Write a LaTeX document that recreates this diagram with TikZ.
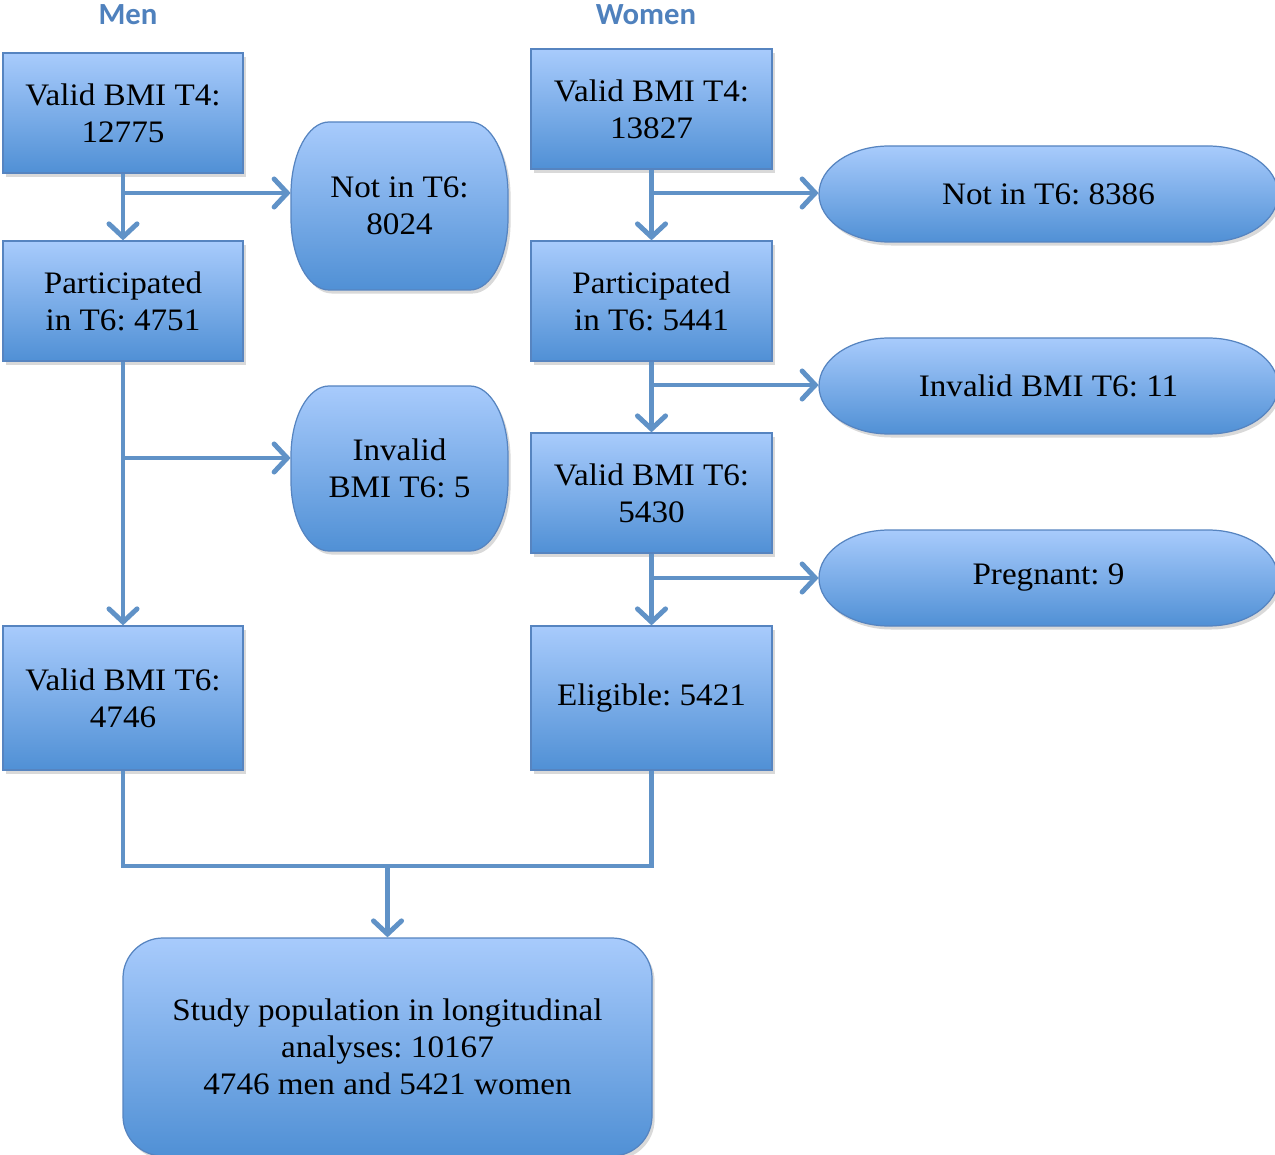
\documentclass[tikz,border=0pt]{standalone}
\usepackage{fontspec}
\setmainfont{Liberation Serif}[FakeStretch=1.06]
\newfontfamily\headfont{Carlito}
\usetikzlibrary{arrows.meta,shadows}
\definecolor{boxtop}{RGB}{168,203,252}
\definecolor{boxbot}{RGB}{80,144,213}
\definecolor{boxline}{RGB}{86,132,192}
\definecolor{flow}{RGB}{96,146,199}
\definecolor{headblue}{RGB}{79,129,189}
\def\px{0.02cm}
\newcommand\blob[6]{%
  \path[fillshade] (#1+#5,#2) -- (#3-#5,#2)
    arc[start angle=90,end angle=0,x radius=#5*\px,y radius=#6*\px]
    -- (#3,#4-#6)
    arc[start angle=0,end angle=-90,x radius=#5*\px,y radius=#6*\px]
    -- (#1+#5,#4)
    arc[start angle=-90,end angle=-180,x radius=#5*\px,y radius=#6*\px]
    -- (#1,#2+#6)
    arc[start angle=180,end angle=90,x radius=#5*\px,y radius=#6*\px]
    -- cycle;}
\frenchspacing
\begin{document}
\begin{tikzpicture}[x=\px,y=-\px,
    fillshade/.style={top color=boxtop,bottom color=boxbot,draw=boxline,line width=0.7pt,
      drop shadow={shadow xshift=1.5pt,shadow yshift=-2pt,opacity=.3}},
    txt/.style={align=center,inner sep=0pt,font=\fontsize{17.8}{21}\selectfont},
    box/.style={fillshade,txt,rectangle,minimum width=240*\px,minimum height=120*\px},
    blobtext/.style={txt,rectangle},
    head/.style={font=\headfont\bfseries\fontsize{17.5}{20}\selectfont,text=headblue},
    flowline/.style={draw=flow,line width=2.8pt},
    flow/.style={flowline,-{Straight Barb[length=7.5pt,width=16pt,line cap=round]}}]
  \useasboundingbox (0,0) rectangle (1275,1155);
  \node[head] (menhead) at (128,15) {Men};
  \node[head] (womenhead) at (646,15) {Women};

  \node[box] (m1) at (123,113) {Valid BMI T4:\\12775};
  \node[box] (m2) at (123,301) {Participated\\in T6: 4751};
  \node[box,minimum height=144*\px] (m3) at (123,698) {Valid BMI T6:\\4746};
  \blob{291}{122}{508}{290}{38}{72}
  \node[blobtext,minimum width=217*\px,minimum height=168*\px] (n1) at (399.5,206) {Not in T6:\\8024};
  \blob{291}{386}{508}{551}{38}{70}
  \node[blobtext,minimum width=217*\px,minimum height=165*\px] (n2) at (399.5,468.5) {Invalid\\BMI T6: 5};

  \node[box,minimum width=241*\px] (w1) at (651.5,109) {Valid BMI T4:\\13827};
  \node[box,minimum width=241*\px] (w2) at (651.5,301) {Participated\\in T6: 5441};
  \node[box,minimum width=241*\px] (w3) at (651.5,493) {Valid BMI T6:\\5430};
  \node[box,minimum width=241*\px,minimum height=144*\px] (w4) at (651.5,698) {Eligible: 5421};
  \blob{819}{146}{1278}{242}{70}{48}
  \node[blobtext,minimum width=459*\px,minimum height=96*\px] (r1) at (1048.5,194) {Not in T6: 8386};
  \blob{819}{338}{1278}{434}{70}{48}
  \node[blobtext,minimum width=459*\px,minimum height=96*\px] (r2) at (1048.5,386) {Invalid BMI T6: 11};
  \blob{819}{530}{1278}{626}{70}{48}
  \node[blobtext,minimum width=459*\px,minimum height=96*\px] (r3) at (1048.5,578) {Pregnant: 9};

  \node[fillshade,txt,rectangle,rounded corners=0.8cm,minimum width=529*\px,minimum height=218*\px] (fin) at (387.5,1047)
    {Study population in longitudinal\\analyses: 10167\\4746 men and 5421 women};

  \coordinate (b1) at (123,193);
  \coordinate (b2) at (123,458);
  \coordinate (c1) at (651.5,193);
  \coordinate (c2) at (651.5,385);
  \coordinate (c3) at (651.5,578);
  \coordinate (j) at (387.5,866);
  \draw[flow] (m1) -- (m2);
  \draw[flow] (b1) -- (b1 -| n1.west);
  \draw[flow] (m2) -- (m3);
  \draw[flow] (b2) -- (b2 -| n2.west);
  \draw[flow] (w1) -- (w2);
  \draw[flow] (c1) -- (c1 -| r1.west);
  \draw[flow] (w2) -- (w3);
  \draw[flow] (c2) -- (c2 -| r2.west);
  \draw[flow] (w3) -- (w4);
  \draw[flow] (c3) -- (c3 -| r3.west);
  \draw[flowline] (m3.south) |- (j) -| (w4.south);
  \draw[flow] (j) -- (fin);
\end{tikzpicture}
\end{document}
